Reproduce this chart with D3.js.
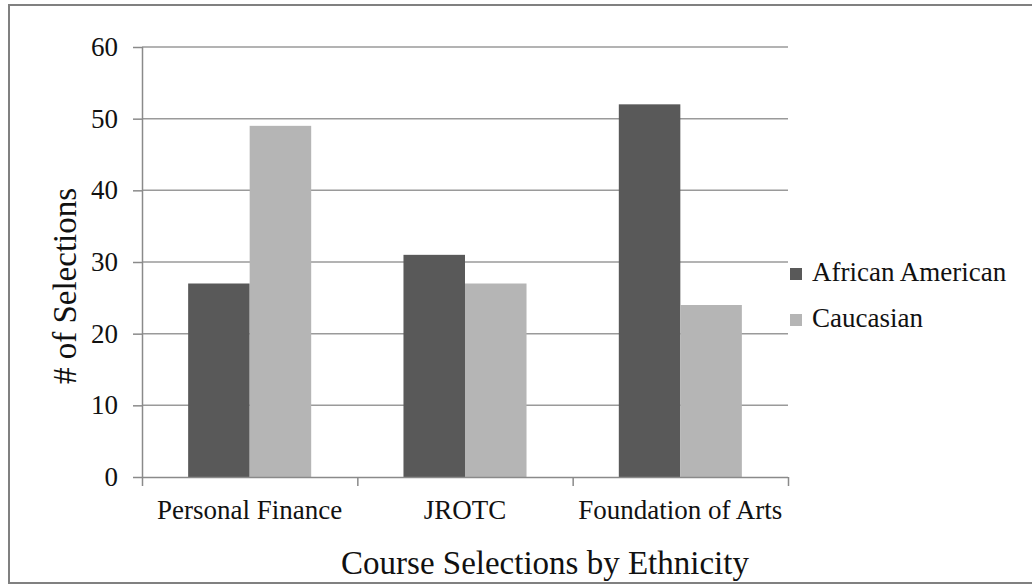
<!DOCTYPE html>
<html>
<head>
<meta charset="utf-8">
<script src="https://cdn.jsdelivr.net/npm/d3@7"></script>
<style>
  html, body { margin: 0; padding: 0; background: #fff; }
  svg { display: block; }
</style>
</head>
<body>
<svg id="chart" width="1032" height="585"></svg>
<script>
const categories = ["Personal Finance", "JROTC", "Foundation of Arts"];
const seriesNames = ["African American", "Caucasian"];
const africanAmerican = [27, 31, 52];
const caucasian = [49, 27, 24];
const yTicks = [0, 10, 20, 30, 40, 50, 60];
const colors = ["#595959", "#b5b5b5"];

const FONT = "'Times New Roman', Times, 'Liberation Serif', 'DejaVu Serif', serif";
const seriesValues = [africanAmerican, caucasian];
const svg = d3.select("#chart");

// outer border
svg.append("rect").attr("x", 9).attr("y", 5).attr("width", 1030).attr("height", 578)
  .attr("fill", "none").attr("stroke", "#808080").attr("stroke-width", 2);

const y = d3.scaleLinear().domain([0, 60]).range([477, 47]);
const x = d3.scaleBand().domain(categories).range([142, 788]).paddingInner(0).paddingOuter(0);
const x1 = d3.scaleBand().domain(seriesNames).range([0, x.bandwidth()]).paddingInner(0).paddingOuter(0.75);

// gridlines
svg.append("g").selectAll("line").data(yTicks.filter(d => d > 0)).join("line")
  .attr("x1", 142).attr("x2", 788)
  .attr("y1", d => y(d)).attr("y2", d => y(d))
  .attr("stroke", "#9a9a9a").attr("stroke-width", 1.5);

// y axis
const yAxis = svg.append("g").attr("transform", "translate(142,0)")
  .call(d3.axisLeft(y).tickValues(yTicks).tickSize(9).tickPadding(15).tickFormat(d3.format("d")))
  .style("font-family", FONT);
yAxis.select(".domain").attr("stroke", "#8a8a8a").attr("stroke-width", 1.5).attr("d", "M0.5," + y(60) + "V" + y(0));
yAxis.selectAll(".tick line").attr("stroke", "#8a8a8a").attr("stroke-width", 1.5);
yAxis.selectAll(".tick text").attr("font-size", 27).attr("fill", "#111").style("font-family", FONT);

// bars
const groups = svg.append("g").selectAll("g").data(categories).join("g")
  .attr("transform", d => `translate(${x(d)},0)`);
groups.selectAll("rect").data((c, i) => seriesNames.map((s, j) => ({ s, j, v: seriesValues[j][i] })))
  .join("rect")
  .attr("x", d => x1(d.s)).attr("width", x1.bandwidth())
  .attr("y", d => y(d.v)).attr("height", d => y(0) - y(d.v))
  .attr("fill", d => colors[d.j]);

// x axis (category boundary ticks)
const xb = d3.scaleLinear().domain([0, categories.length]).range([142, 788]);
const xAxis = svg.append("g").attr("transform", `translate(0,${y(0)})`)
  .call(d3.axisBottom(xb).tickValues(d3.range(categories.length + 1)).tickSize(9).tickFormat(""));
xAxis.select(".domain").attr("stroke", "#8a8a8a").attr("stroke-width", 1.5).attr("d", "M142,0.5H788");
xAxis.selectAll(".tick line").attr("stroke", "#8a8a8a").attr("stroke-width", 1.5);

// category labels
svg.append("g").selectAll("text").data(categories).join("text")
  .attr("x", d => x(d) + x.bandwidth() / 2).attr("y", 519)
  .attr("text-anchor", "middle").attr("font-size", 27).style("font-family", FONT).attr("fill", "#111")
  .text(d => d);

// axis titles
svg.append("text").attr("x", 545).attr("y", 574).attr("text-anchor", "middle")
  .attr("font-size", 33).style("font-family", FONT).attr("fill", "#111").text("Course Selections by Ethnicity");
svg.append("text").attr("transform", "translate(76,286) rotate(-90)").attr("text-anchor", "middle")
  .attr("font-size", 33).style("font-family", FONT).attr("fill", "#111").text("# of Selections");

// legend
const legend = svg.append("g").selectAll("g").data(seriesNames).join("g")
  .attr("transform", (d, i) => `translate(790,${281 + i * 46})`);
legend.append("rect").attr("x", 0).attr("y", -13).attr("width", 12).attr("height", 12)
  .attr("fill", (d, i) => colors[i]);
legend.append("text").attr("x", 22).attr("y", 0).attr("font-size", 27).style("font-family", FONT)
  .attr("fill", "#111").text(d => d);
</script>
</body>
</html>
